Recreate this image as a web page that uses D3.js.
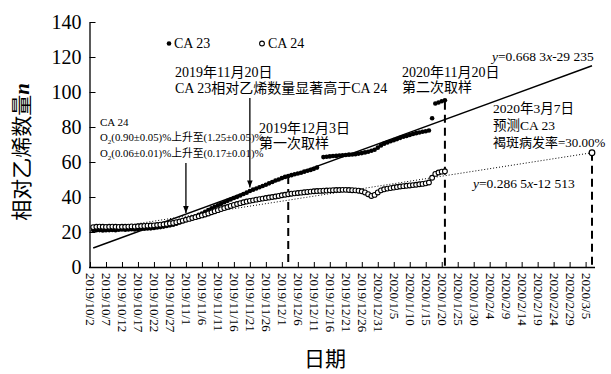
<!DOCTYPE html>
<html><head><meta charset="utf-8">
<script src="https://cdn.jsdelivr.net/npm/d3@7"></script>
<style>
body{margin:0;background:#fff}
svg text{font-family:"Liberation Serif","Noto Sans CJK SC",serif;fill:#000}
</style></head><body>
<svg id="chart" width="611" height="374"></svg>
<script>
// Daily relative ethylene counts, first value on 2019-10-03
const seriesStart = "2019-10-03";
const ca23 = [
  21.2,21.0,21.1,20.9,21.0,21.1,21.2,21.0,21.3,21.4,
  21.3,21.5,21.6,21.5,21.7,21.8,21.9,22.0,22.1,22.3,
  22.6,22.8,23.1,23.4,23.8,24.2,24.7,25.4,26.2,27.0,
  27.6,28.3,29.0,29.8,30.6,31.5,32.5,33.5,34.4,35.3,
  36.1,37.0,37.8,38.6,39.4,40.1,40.9,41.7,42.5,43.4,
  44.2,44.9,45.6,46.3,47.0,47.8,48.6,49.4,50.0,50.8,
  51.5,52.0,52.5,53.0,53.4,53.9,54.5,55.0,55.5,56.1,
  56.8,null,62.8,63.0,63.2,63.4,63.5,63.7,63.9,64.0,
  64.2,64.3,64.5,64.8,65.1,65.5,65.9,66.4,67.0,68.2,
  69.5,70.5,71.2,71.9,72.5,73.1,73.8,74.4,74.9,75.4,
  76.0,76.5,76.9,77.3,77.6,78.0,85.0,93.4,94.0,94.7,95.3
];
const ca24 = [
  22.8,23.0,23.1,23.0,22.9,23.0,23.1,23.0,22.9,23.0,
  23.0,23.1,23.2,23.1,23.3,23.4,23.5,23.6,23.7,23.8,
  24.0,24.2,24.4,24.6,24.9,25.2,25.6,26.0,26.5,27.0,
  27.5,28.0,28.5,29.0,29.5,30.0,30.6,31.3,31.9,32.5,
  33.1,33.7,34.3,34.9,35.5,36.0,36.5,37.0,37.4,37.8,
  38.1,38.5,38.8,39.1,39.4,39.7,40.0,40.3,40.6,41.0,
  41.3,41.6,41.9,42.1,42.3,42.5,42.7,42.9,43.1,43.3,
  43.4,43.5,43.6,43.7,43.8,43.9,44.0,44.0,44.1,44.1,
  44.0,43.9,43.8,43.6,43.3,42.6,41.6,40.6,41.2,42.6,
  43.8,44.4,44.8,45.1,45.4,45.7,46.0,46.2,46.4,46.6,
  46.8,47.0,47.3,47.5,47.8,48.3,51.0,53.2,54.0,54.5,54.7
];
// Linear fits (end points) and the forecast point
const fitCA23 = [["2019-10-03", 10.9], ["2020-03-07", 115.0]];
const fitCA24 = [["2019-10-02", 20.5], ["2020-03-07", 65.3]];
const forecast = ["2020-03-07", 65.3];
// Sampling / forecast markers: [date, top value]
const dashedMarks = [["2019-12-03", 52], ["2020-01-21", 94.5], ["2020-03-07", 65.3]];
// Arrows: [date, from value, to value]
const arrows = [["2019-11-21", 96.6, 45.5], ["2019-11-01", 59.4, 30.8]];
const xTickLabels = ["2019/10/2","2019/10/7","2019/10/12","2019/10/17","2019/10/22","2019/10/27",
  "2019/11/1","2019/11/6","2019/11/11","2019/11/16","2019/11/21","2019/11/26","2019/12/1",
  "2019/12/6","2019/12/11","2019/12/16","2019/12/21","2019/12/26","2020/12/31","2020/1/5",
  "2020/1/10","2020/1/15","2020/1/20","2020/1/25","2020/1/30","2020/2/4","2020/2/9",
  "2020/2/14","2020/2/19","2020/2/24","2020/2/29","2020/3/5"];
const yTicks = [0,20,40,60,80,100,120,140];

const parse = d3.timeParse("%Y-%m-%d");
const svg = d3.select("#chart");
const x = d3.scaleTime().domain([parse("2019-10-02"), parse("2020-03-07")]).range([90, 592]);
const y = d3.scaleLinear().domain([0, 140]).range([267, 22]);

const t0 = parse(seriesStart);
const toPts = arr => arr.map((v, i) => ({d: d3.timeDay.offset(t0, i), v})).filter(p => p.v != null);
const pts23 = toPts(ca23), pts24 = toPts(ca24);

// Axes
const tickDates = xTickLabels.map((_, i) => d3.timeDay.offset(parse("2019-10-02"), i * 5));
const xAxis = d3.axisBottom(x).tickValues(tickDates).tickSizeInner(-5).tickSizeOuter(0)
  .tickFormat((d, i) => xTickLabels[i]);
const gx = svg.append("g").attr("transform", "translate(0,267)").call(xAxis);
gx.select(".domain").attr("d", "M89,0.5H595").attr("stroke-width", 1.3);
gx.selectAll(".tick line").attr("stroke-width", 1);
gx.selectAll(".tick text")
  .attr("transform", "rotate(90)").attr("x", 6).attr("y", 0).attr("dy", "0.35em")
  .style("text-anchor", "start").style("font-size", "13px");

const yAxis = d3.axisLeft(y).tickValues(yTicks).tickSizeInner(-6).tickSizeOuter(0).tickPadding(8);
const gy = svg.append("g").attr("transform", "translate(89.5,0)").call(yAxis);
gy.select(".domain").attr("stroke-width", 1.3);
gy.selectAll(".tick text").style("font-size", "20px");

// Fit lines
const line = d3.line().x(d => x(parse(d[0]))).y(d => y(d[1]));
svg.append("path").attr("d", line(fitCA24)).attr("fill", "none")
  .attr("stroke", "#000").attr("stroke-width", 1).attr("stroke-dasharray", "1,2");
svg.append("path").attr("d", line(fitCA23)).attr("fill", "none")
  .attr("stroke", "#000").attr("stroke-width", 1.5);

// Dashed verticals
svg.selectAll(".vmark").data(dashedMarks).join("line").attr("class", "vmark")
  .attr("x1", d => x(parse(d[0]))).attr("x2", d => x(parse(d[0])))
  .attr("y1", d => y(d[1])).attr("y2", y(0))
  .attr("stroke", "#000").attr("stroke-width", 2).attr("stroke-dasharray", "8,5");

// Series points
svg.append("g").selectAll("circle").data(pts23).join("circle")
  .attr("cx", d => x(d.d)).attr("cy", d => y(d.v)).attr("r", 2.3).attr("fill", "#000");
svg.append("g").selectAll("circle").data(pts24).join("circle")
  .attr("cx", d => x(d.d)).attr("cy", d => y(d.v)).attr("r", 2.4)
  .attr("fill", "#fff").attr("stroke", "#000").attr("stroke-width", 1.1);
svg.append("circle").attr("cx", x(parse(forecast[0]))).attr("cy", y(forecast[1])).attr("r", 2.8)
  .attr("fill", "#fff").attr("stroke", "#000").attr("stroke-width", 1.2);

// Arrows
svg.append("defs").append("marker").attr("id", "ah").attr("viewBox", "0 0 10 10")
  .attr("refX", 10).attr("refY", 5).attr("markerWidth", 7).attr("markerHeight", 7)
  .attr("markerUnits", "userSpaceOnUse").attr("orient", "auto")
  .append("path").attr("d", "M0,1L10,5L0,9Z").attr("fill", "#000");
svg.selectAll(".arrow").data(arrows).join("line").attr("class", "arrow")
  .attr("x1", d => x(parse(d[0]))).attr("x2", d => x(parse(d[0])))
  .attr("y1", d => y(d[1])).attr("y2", d => y(d[2]))
  .attr("stroke", "#000").attr("stroke-width", 1.3).attr("marker-end", "url(#ah)");

// Legend
svg.append("circle").attr("cx", 169).attr("cy", 43.5).attr("r", 2.3).attr("fill", "#000");
svg.append("text").attr("x", 174).attr("y", 48).style("font-size", "14px").text("CA 23");
svg.append("circle").attr("cx", 262).attr("cy", 43.5).attr("r", 2.4)
  .attr("fill", "#fff").attr("stroke", "#000").attr("stroke-width", 1.1);
svg.append("text").attr("x", 268).attr("y", 48).style("font-size", "14px").text("CA 24");

// Annotations
const notes = [
  [175, 77, 14, "2019年11月20日"],
  [175, 93, 14, "CA 23相对乙烯数量显著高于CA 24"],
  [100, 126, 11, "CA 24"],
  [259, 133, 14, "2019年12月3日"],
  [259, 148, 14, "第一次取样"],
  [402, 77, 14, "2020年11月20日"],
  [402, 92, 14, "第二次取样"],
  [493, 113, 13.5, "2020年3月7日"],
  [493, 130, 13.5, "预测CA 23"],
  [493, 147, 13, "褐斑病发率=30.00%"]
];
notes.forEach(([tx, ty, fs, s]) =>
  svg.append("text").attr("x", tx).attr("y", ty).style("font-size", fs + "px").text(s));

function o2Text(tx, ty, a, b) {
  const t = svg.append("text").attr("x", tx).attr("y", ty).style("font-size", "10.8px");
  t.append("tspan").text("O");
  t.append("tspan").attr("dy", 2.5).style("font-size", "7px").text("2");
  t.append("tspan").attr("dy", -2.5).text(`(${a})%上升至(${b})%`);
}
o2Text(100, 141, "0.90±0.05", "1.25±0.05");
o2Text(100, 157, "0.06±0.01", "0.17±0.01");

function eqText(tx, ty, k, b) {
  const t = svg.append("text").attr("x", tx).attr("y", ty).style("font-size", "13.5px");
  t.append("tspan").style("font-style", "italic").text("y");
  t.append("tspan").text("=" + k);
  t.append("tspan").style("font-style", "italic").text("x");
  t.append("tspan").text("-" + b);
}
eqText(492, 61, "0.668 3", "29 235");
eqText(473, 188, "0.286 5", "12 513");

// Axis titles
const yt = svg.append("text").attr("transform", "translate(22,152) rotate(-90)")
  .attr("text-anchor", "middle").attr("dominant-baseline", "central").style("font-size", "21px");
yt.append("tspan").text("相对乙烯数量");
yt.append("tspan").style("font-style", "italic").style("font-weight", "bold").text("n");
svg.append("text").attr("x", 325).attr("y", 366).attr("text-anchor", "middle")
  .style("font-size", "21px").text("日期");
</script>
</body></html>
